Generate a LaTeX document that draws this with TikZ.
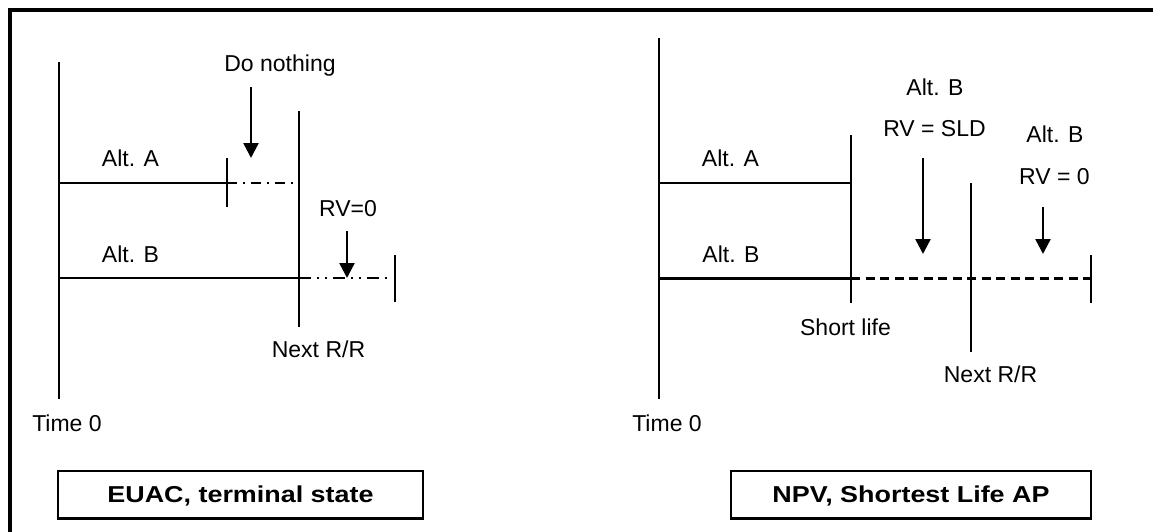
\documentclass[tikz,border=0pt]{standalone}
\usepackage{fontspec}
\setmainfont{Liberation Sans}
\usepackage{graphicx}
\usetikzlibrary{arrows.meta}
\begin{document}
\begin{tikzpicture}[x=0.5pt,y=-0.5pt,
  rule/.style={line width=1.2pt},
  dashdot/.style={rule, dash pattern=on 5pt off 3pt on 1pt off 3pt},
  dashdotdot/.style={rule, dash pattern=on 6pt off 3pt on 1pt off 3pt on 1pt off 3pt},
  dashline/.style={rule, dash pattern=on 4.5pt off 2.75pt},
  drop/.style={rule, -{Triangle[width=7.5pt,length=7.5pt]}},
  lbl/.style={font=\fontsize{11.5}{13}\selectfont, inner sep=0pt, anchor=base},
  title/.style={draw, line width=1.2pt, inner sep=0pt, minimum height=23.75pt,
    text height=8.2pt, text depth=0pt, font=\fontsize{11.5}{13}\selectfont\bfseries}
]
\useasboundingbox (0,0) rectangle (1153,531);
\begin{scope}
  \clip (0,0) rectangle (1153,531);
  \draw[line width=2pt] (9.5,9.5) rectangle (1200,600);
\end{scope}

% ---------- left panel: EUAC, terminal state ----------
\coordinate (t0L-top) at (59,62);   \coordinate (t0L-bot) at (59,399);
\coordinate (aL-start) at (59,183); \coordinate (aL-end) at (227,183);
\coordinate (aL-stop) at (299,183);
\coordinate (aL-tickT) at (227,158); \coordinate (aL-tickB) at (227,207);
\coordinate (rrL-top) at (299,111); \coordinate (rrL-bot) at (299,327);
\coordinate (bL-start) at (59,278); \coordinate (bL-mid) at (299,278);
\coordinate (bL-end) at (390,278);
\coordinate (bL-tickT) at (395,255); \coordinate (bL-tickB) at (395,302);
\coordinate (dnL-from) at (251,87); \coordinate (dnL-to) at (251,158);
\coordinate (rvL-from) at (347,231); \coordinate (rvL-to) at (347,278);

\draw[rule] (t0L-top) -- (t0L-bot);
\draw[rule] (aL-start) -- (aL-end);
\draw[dashdot] (aL-end) -- (aL-stop);
\draw[rule] (aL-tickT) -- (aL-tickB);
\draw[rule] (rrL-top) -- (rrL-bot);
\draw[rule] (bL-start) -- (bL-mid);
\draw[dashdotdot] (bL-mid) -- (bL-end);
\draw[rule] (bL-tickT) -- (bL-tickB);
\draw[drop] (dnL-from) -- (dnL-to);
\draw[drop] (rvL-from) -- (rvL-to);

\node[lbl] (doNothing) at (280,71) {Do nothing};
\node[lbl] (altAL) at (130.5,166.7) {Alt. A};
\node[lbl] (altBL) at (130.5,262) {Alt. B};
\node[lbl] (rv0L) at (348,216) {RV=0};
\node[lbl] (nextL) at (318.5,357) {Next R/R};
\node[lbl] (time0L) at (67,431) {Time 0};
\node[title, minimum width=182.5pt] (euac) at (240.5,494.75)
  {\scalebox{1.17}[1]{EUAC, terminal state}};

% ---------- right panel: NPV, shortest life ----------
\coordinate (t0R-top) at (659,38);  \coordinate (t0R-bot) at (659,399);
\coordinate (aR-start) at (659,183); \coordinate (aR-end) at (851,183);
\coordinate (slR-top) at (851,135); \coordinate (slR-bot) at (851,303);
\coordinate (bR-start) at (659,278.5); \coordinate (bR-mid) at (851,278.5);
\coordinate (bR-end) at (1091,278.5);
\coordinate (rrR-top) at (971,183); \coordinate (rrR-bot) at (971,351.5);
\coordinate (endR-top) at (1091,255); \coordinate (endR-bot) at (1091,303);
\coordinate (sldR-from) at (923,158); \coordinate (sldR-to) at (923,254);
\coordinate (zeroR-from) at (1043,206.5); \coordinate (zeroR-to) at (1043,254);

\draw[rule] (t0R-top) -- (t0R-bot);
\draw[rule] (aR-start) -- (aR-end);
\draw[rule] (slR-top) -- (slR-bot);
\draw[rule] (bR-start) -- (bR-mid);
\draw[dashline] (bR-mid) -- (bR-end);
\draw[rule] (rrR-top) -- (rrR-bot);
\draw[rule] (endR-top) -- (endR-bot);
\draw[drop] (sldR-from) -- (sldR-to);
\draw[drop] (zeroR-from) -- (zeroR-to);

\node[lbl] (altAR) at (730.5,166.7) {Alt. A};
\node[lbl] (altBR) at (731,262) {Alt. B};
\node[lbl] (altB1) at (935,95) {Alt. B};
\node[lbl] (rvSLD) at (934.5,136) {RV = SLD};
\node[lbl] (altB2) at (1055,142.7) {Alt. B};
\node[lbl] (rvZero) at (1054.5,184) {RV = 0};
\node[lbl] (shortLife) at (845.5,335) {Short life};
\node[lbl] (nextR) at (990.5,382) {Next R/R};
\node[lbl] (time0R) at (667,431) {Time 0};
\node[title, minimum width=180pt] (npv) at (911,494.75)
  {\scalebox{1.17}[1]{NPV, Shortest Life AP}};
\end{tikzpicture}
\end{document}
